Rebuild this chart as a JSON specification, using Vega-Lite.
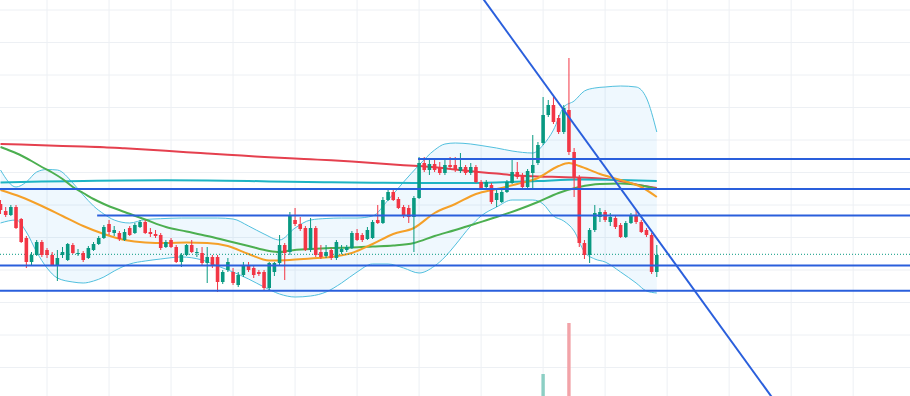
{
  "$schema": "https://vega.github.io/schema/vega-lite/v6.json",
  "width": 910,
  "height": 396,
  "autosize": {"type": "none"},
  "padding": 0,
  "background": "white",
  "config": {
    "view": {"stroke": null}
  },
  "datasets": {
    "candles": [
      {"i":0,"o":119.6,"h":120.0,"l":118.6,"c":119.0,"d":"down"},
      {"i":1,"o":118.9,"h":119.3,"l":118.3,"c":118.5,"d":"down"},
      {"i":2,"o":118.5,"h":119.5,"l":118.4,"c":119.3,"d":"up"},
      {"i":3,"o":119.3,"h":119.5,"l":117.1,"c":117.2,"d":"down"},
      {"i":4,"o":118.1,"h":118.2,"l":115.7,"c":115.8,"d":"down"},
      {"i":5,"o":116.2,"h":116.4,"l":113.2,"c":113.8,"d":"down"},
      {"i":6,"o":113.8,"h":114.8,"l":113.5,"c":114.5,"d":"up"},
      {"i":7,"o":114.5,"h":116.0,"l":114.4,"c":115.8,"d":"up"},
      {"i":8,"o":115.8,"h":116.0,"l":114.3,"c":114.5,"d":"down"},
      {"i":9,"o":115.0,"h":115.2,"l":114.2,"c":114.5,"d":"down"},
      {"i":10,"o":114.5,"h":114.8,"l":113.4,"c":113.5,"d":"down"},
      {"i":11,"o":113.5,"h":115.0,"l":111.9,"c":114.2,"d":"up"},
      {"i":12,"o":114.5,"h":115.3,"l":114.2,"c":114.8,"d":"up"},
      {"i":13,"o":114.0,"h":115.7,"l":113.9,"c":115.6,"d":"up"},
      {"i":14,"o":115.5,"h":115.7,"l":114.6,"c":114.7,"d":"down"},
      {"i":15,"o":114.6,"h":115.1,"l":114.4,"c":114.7,"d":"up"},
      {"i":16,"o":114.7,"h":114.9,"l":113.8,"c":114.0,"d":"down"},
      {"i":17,"o":114.2,"h":115.4,"l":114.1,"c":115.2,"d":"up"},
      {"i":18,"o":115.0,"h":115.8,"l":114.9,"c":115.6,"d":"up"},
      {"i":19,"o":115.6,"h":116.4,"l":115.5,"c":116.2,"d":"up"},
      {"i":20,"o":116.2,"h":117.5,"l":116.1,"c":117.3,"d":"up"},
      {"i":21,"o":117.6,"h":118.0,"l":116.5,"c":116.8,"d":"down"},
      {"i":22,"o":116.7,"h":117.4,"l":116.4,"c":117.0,"d":"up"},
      {"i":23,"o":116.7,"h":116.9,"l":115.9,"c":116.1,"d":"down"},
      {"i":24,"o":116.0,"h":117.1,"l":115.9,"c":116.8,"d":"up"},
      {"i":25,"o":117.2,"h":117.4,"l":116.4,"c":116.5,"d":"down"},
      {"i":26,"o":116.7,"h":117.7,"l":116.6,"c":117.5,"d":"up"},
      {"i":27,"o":117.3,"h":118.0,"l":117.2,"c":117.8,"d":"up"},
      {"i":28,"o":117.8,"h":118.0,"l":116.6,"c":116.7,"d":"down"},
      {"i":29,"o":116.8,"h":117.2,"l":116.3,"c":116.6,"d":"down"},
      {"i":30,"o":116.6,"h":117.0,"l":116.2,"c":116.4,"d":"down"},
      {"i":31,"o":116.5,"h":116.7,"l":115.0,"c":115.2,"d":"down"},
      {"i":32,"o":115.3,"h":116.0,"l":115.2,"c":115.8,"d":"up"},
      {"i":33,"o":116.0,"h":116.2,"l":115.2,"c":115.3,"d":"down"},
      {"i":34,"o":115.3,"h":115.5,"l":113.7,"c":113.8,"d":"down"},
      {"i":35,"o":113.8,"h":114.7,"l":113.3,"c":114.5,"d":"up"},
      {"i":36,"o":114.5,"h":115.6,"l":114.4,"c":115.5,"d":"up"},
      {"i":37,"o":115.5,"h":116.0,"l":114.7,"c":114.8,"d":"down"},
      {"i":38,"o":114.7,"h":115.2,"l":114.3,"c":114.8,"d":"up"},
      {"i":39,"o":114.7,"h":115.3,"l":113.5,"c":113.7,"d":"down"},
      {"i":40,"o":113.7,"h":115.3,"l":111.7,"c":114.3,"d":"up"},
      {"i":41,"o":114.3,"h":114.5,"l":113.2,"c":113.5,"d":"down"},
      {"i":42,"o":114.3,"h":114.5,"l":110.8,"c":111.8,"d":"down"},
      {"i":43,"o":111.8,"h":113.0,"l":111.6,"c":112.8,"d":"up"},
      {"i":44,"o":113.0,"h":114.2,"l":112.8,"c":113.8,"d":"up"},
      {"i":45,"o":112.8,"h":113.2,"l":111.5,"c":111.7,"d":"down"},
      {"i":46,"o":111.5,"h":112.8,"l":111.3,"c":112.5,"d":"up"},
      {"i":47,"o":112.5,"h":113.8,"l":112.3,"c":113.5,"d":"up"},
      {"i":48,"o":113.5,"h":113.8,"l":112.8,"c":113.0,"d":"down"},
      {"i":49,"o":113.2,"h":113.4,"l":112.2,"c":112.5,"d":"down"},
      {"i":50,"o":112.8,"h":113.0,"l":112.4,"c":112.6,"d":"down"},
      {"i":51,"o":112.8,"h":113.0,"l":110.9,"c":111.2,"d":"down"},
      {"i":52,"o":111.2,"h":113.8,"l":111.0,"c":113.7,"d":"up"},
      {"i":53,"o":112.8,"h":113.8,"l":112.4,"c":113.7,"d":"up"},
      {"i":54,"o":113.7,"h":116.5,"l":113.5,"c":115.5,"d":"up"},
      {"i":55,"o":115.5,"h":115.7,"l":112.0,"c":114.7,"d":"down"},
      {"i":56,"o":114.8,"h":118.8,"l":114.5,"c":118.5,"d":"up"},
      {"i":57,"o":118.0,"h":119.2,"l":117.4,"c":117.6,"d":"down"},
      {"i":58,"o":117.6,"h":118.3,"l":116.9,"c":117.1,"d":"down"},
      {"i":59,"o":117.2,"h":117.4,"l":114.9,"c":115.0,"d":"down"},
      {"i":60,"o":115.0,"h":118.2,"l":114.8,"c":117.2,"d":"up"},
      {"i":61,"o":117.2,"h":117.4,"l":114.3,"c":114.5,"d":"down"},
      {"i":62,"o":114.8,"h":115.5,"l":114.1,"c":114.3,"d":"down"},
      {"i":63,"o":114.4,"h":115.5,"l":114.2,"c":114.8,"d":"up"},
      {"i":64,"o":115.0,"h":115.2,"l":114.0,"c":114.2,"d":"down"},
      {"i":65,"o":114.2,"h":116.0,"l":114.0,"c":115.8,"d":"up"},
      {"i":66,"o":114.8,"h":115.5,"l":114.6,"c":115.1,"d":"up"},
      {"i":67,"o":115.0,"h":115.5,"l":114.8,"c":115.3,"d":"up"},
      {"i":68,"o":115.2,"h":116.9,"l":115.1,"c":116.7,"d":"up"},
      {"i":69,"o":116.7,"h":117.1,"l":115.9,"c":116.0,"d":"down"},
      {"i":70,"o":116.5,"h":116.7,"l":115.8,"c":116.0,"d":"down"},
      {"i":71,"o":116.1,"h":117.3,"l":116.0,"c":117.0,"d":"up"},
      {"i":72,"o":116.2,"h":118.0,"l":116.1,"c":117.8,"d":"up"},
      {"i":73,"o":118.0,"h":119.5,"l":117.6,"c":117.7,"d":"down"},
      {"i":74,"o":117.7,"h":120.3,"l":117.6,"c":120.0,"d":"up"},
      {"i":75,"o":120.0,"h":121.0,"l":119.9,"c":120.8,"d":"up"},
      {"i":76,"o":120.8,"h":121.1,"l":119.9,"c":120.0,"d":"down"},
      {"i":77,"o":120.1,"h":120.3,"l":119.1,"c":119.2,"d":"down"},
      {"i":78,"o":119.3,"h":119.5,"l":118.2,"c":118.4,"d":"down"},
      {"i":79,"o":119.2,"h":119.5,"l":117.7,"c":118.3,"d":"down"},
      {"i":80,"o":118.3,"h":120.4,"l":114.8,"c":120.2,"d":"up"},
      {"i":81,"o":120.2,"h":124.3,"l":120.1,"c":123.7,"d":"up"},
      {"i":82,"o":123.7,"h":124.3,"l":122.8,"c":123.0,"d":"down"},
      {"i":83,"o":123.0,"h":124.1,"l":122.5,"c":123.6,"d":"up"},
      {"i":84,"o":123.6,"h":124.0,"l":122.8,"c":123.0,"d":"down"},
      {"i":85,"o":123.2,"h":123.8,"l":122.5,"c":122.7,"d":"down"},
      {"i":86,"o":122.7,"h":124.0,"l":122.5,"c":123.5,"d":"up"},
      {"i":87,"o":123.5,"h":124.3,"l":123.1,"c":123.3,"d":"down"},
      {"i":88,"o":123.5,"h":124.3,"l":122.8,"c":123.0,"d":"down"},
      {"i":89,"o":122.9,"h":124.7,"l":122.7,"c":123.3,"d":"up"},
      {"i":90,"o":123.3,"h":123.5,"l":122.5,"c":122.7,"d":"down"},
      {"i":91,"o":122.7,"h":123.7,"l":122.5,"c":123.3,"d":"up"},
      {"i":92,"o":123.3,"h":123.5,"l":121.7,"c":121.8,"d":"down"},
      {"i":93,"o":121.8,"h":122.0,"l":121.0,"c":121.2,"d":"down"},
      {"i":94,"o":121.3,"h":122.0,"l":121.1,"c":121.8,"d":"up"},
      {"i":95,"o":121.5,"h":121.7,"l":119.6,"c":119.8,"d":"down"},
      {"i":96,"o":120.0,"h":121.0,"l":119.3,"c":120.7,"d":"up"},
      {"i":97,"o":119.8,"h":121.0,"l":119.7,"c":120.8,"d":"up"},
      {"i":98,"o":120.8,"h":122.0,"l":120.7,"c":121.8,"d":"up"},
      {"i":99,"o":121.7,"h":124.0,"l":121.6,"c":122.8,"d":"up"},
      {"i":100,"o":122.8,"h":123.8,"l":122.1,"c":122.3,"d":"down"},
      {"i":101,"o":122.5,"h":122.7,"l":121.1,"c":121.3,"d":"down"},
      {"i":102,"o":121.3,"h":123.1,"l":121.2,"c":122.9,"d":"up"},
      {"i":103,"o":122.7,"h":126.5,"l":121.2,"c":123.5,"d":"up"},
      {"i":104,"o":123.7,"h":125.8,"l":123.5,"c":125.5,"d":"up"},
      {"i":105,"o":125.7,"h":130.3,"l":125.5,"c":128.5,"d":"up"},
      {"i":106,"o":128.5,"h":130.0,"l":128.3,"c":129.5,"d":"up"},
      {"i":107,"o":129.5,"h":130.3,"l":127.6,"c":127.8,"d":"down"},
      {"i":108,"o":128.2,"h":128.5,"l":126.6,"c":126.8,"d":"down"},
      {"i":109,"o":126.8,"h":129.5,"l":126.6,"c":129.2,"d":"up"},
      {"i":110,"o":129.0,"h":134.2,"l":124.5,"c":124.8,"d":"down"},
      {"i":111,"o":124.8,"h":125.2,"l":120.3,"c":122.3,"d":"down"},
      {"i":112,"o":122.3,"h":122.5,"l":115.3,"c":115.7,"d":"down"},
      {"i":113,"o":115.7,"h":116.0,"l":114.1,"c":114.5,"d":"down"},
      {"i":114,"o":114.5,"h":117.2,"l":113.7,"c":117.0,"d":"up"},
      {"i":115,"o":117.0,"h":119.5,"l":116.8,"c":118.7,"d":"up"},
      {"i":116,"o":118.3,"h":119.2,"l":117.8,"c":118.8,"d":"up"},
      {"i":117,"o":118.8,"h":119.0,"l":117.8,"c":118.0,"d":"down"},
      {"i":118,"o":117.8,"h":118.7,"l":117.4,"c":118.3,"d":"up"},
      {"i":119,"o":118.2,"h":118.4,"l":117.1,"c":117.3,"d":"down"},
      {"i":120,"o":117.5,"h":117.7,"l":116.2,"c":116.3,"d":"down"},
      {"i":121,"o":116.3,"h":117.9,"l":116.2,"c":117.7,"d":"up"},
      {"i":122,"o":117.7,"h":118.7,"l":117.6,"c":118.5,"d":"up"},
      {"i":123,"o":118.5,"h":119.0,"l":117.6,"c":117.8,"d":"down"},
      {"i":124,"o":117.8,"h":118.0,"l":116.7,"c":116.8,"d":"down"},
      {"i":125,"o":117.0,"h":117.2,"l":116.3,"c":116.5,"d":"down"},
      {"i":126,"o":116.5,"h":116.7,"l":112.6,"c":112.8,"d":"down"},
      {"i":127,"o":112.8,"h":115.5,"l":112.3,"c":114.5,"d":"up"}
    ],
    "lines": [
      {"s":"ma1","i":0,"p":125.6},{"s":"ma1","i":4,"p":125.54},{"s":"ma1","i":8,"p":125.47},{"s":"ma1","i":12,"p":125.4},
      {"s":"ma1","i":16,"p":125.35},{"s":"ma1","i":20,"p":125.28},{"s":"ma1","i":24,"p":125.17},{"s":"ma1","i":28,"p":125.05},
      {"s":"ma1","i":32,"p":124.92},{"s":"ma1","i":36,"p":124.78},{"s":"ma1","i":40,"p":124.65},{"s":"ma1","i":44,"p":124.52},
      {"s":"ma1","i":48,"p":124.4},{"s":"ma1","i":52,"p":124.28},{"s":"ma1","i":56,"p":124.17},{"s":"ma1","i":60,"p":124.07},
      {"s":"ma1","i":64,"p":123.97},{"s":"ma1","i":68,"p":123.85},{"s":"ma1","i":72,"p":123.7},{"s":"ma1","i":76,"p":123.55},
      {"s":"ma1","i":80,"p":123.42},{"s":"ma1","i":84,"p":123.27},{"s":"ma1","i":88,"p":123.05},{"s":"ma1","i":92,"p":122.83},
      {"s":"ma1","i":96,"p":122.64},{"s":"ma1","i":100,"p":122.45},{"s":"ma1","i":104,"p":122.35},{"s":"ma1","i":108,"p":122.3},
      {"s":"ma1","i":112,"p":122.25},{"s":"ma1","i":116,"p":122.14},{"s":"ma1","i":120,"p":121.9},{"s":"ma1","i":124,"p":121.45},
      {"s":"ma1","i":127,"p":121.2},
      {"s":"ma2","i":0,"p":121.75},{"s":"ma2","i":8,"p":121.85},{"s":"ma2","i":16,"p":121.9},{"s":"ma2","i":24,"p":121.95},
      {"s":"ma2","i":32,"p":121.97},{"s":"ma2","i":40,"p":121.95},{"s":"ma2","i":48,"p":121.9},{"s":"ma2","i":56,"p":121.82},
      {"s":"ma2","i":64,"p":121.77},{"s":"ma2","i":72,"p":121.73},{"s":"ma2","i":80,"p":121.7},{"s":"ma2","i":88,"p":121.7},
      {"s":"ma2","i":96,"p":121.75},{"s":"ma2","i":104,"p":121.9},{"s":"ma2","i":112,"p":122.05},{"s":"ma2","i":120,"p":122.0},
      {"s":"ma2","i":127,"p":121.9},
      {"s":"ma3","i":0,"p":125.3},{"s":"ma3","i":2,"p":124.9},{"s":"ma3","i":4,"p":124.45},{"s":"ma3","i":6,"p":123.9},
      {"s":"ma3","i":8,"p":123.3},{"s":"ma3","i":10,"p":122.75},{"s":"ma3","i":12,"p":122.1},{"s":"ma3","i":14,"p":121.3},
      {"s":"ma3","i":16,"p":120.7},{"s":"ma3","i":18,"p":120.1},{"s":"ma3","i":20,"p":119.6},{"s":"ma3","i":24,"p":118.8},
      {"s":"ma3","i":28,"p":118.05},{"s":"ma3","i":32,"p":117.3},{"s":"ma3","i":36,"p":116.85},{"s":"ma3","i":40,"p":116.4},
      {"s":"ma3","i":44,"p":115.9},{"s":"ma3","i":48,"p":115.4},{"s":"ma3","i":52,"p":114.9},{"s":"ma3","i":54,"p":114.8},
      {"s":"ma3","i":56,"p":114.95},{"s":"ma3","i":60,"p":115.1},{"s":"ma3","i":64,"p":115.2},{"s":"ma3","i":68,"p":115.25},
      {"s":"ma3","i":72,"p":115.35},{"s":"ma3","i":76,"p":115.45},{"s":"ma3","i":80,"p":115.7},{"s":"ma3","i":84,"p":116.4},
      {"s":"ma3","i":88,"p":117.0},{"s":"ma3","i":92,"p":117.65},{"s":"ma3","i":96,"p":118.3},{"s":"ma3","i":100,"p":119.0},
      {"s":"ma3","i":104,"p":119.8},{"s":"ma3","i":108,"p":120.7},{"s":"ma3","i":112,"p":121.3},{"s":"ma3","i":116,"p":121.6},
      {"s":"ma3","i":120,"p":121.65},{"s":"ma3","i":124,"p":121.45},{"s":"ma3","i":127,"p":121.1},
      {"s":"ma4","i":0,"p":121.0},{"s":"ma4","i":4,"p":120.3},{"s":"ma4","i":8,"p":119.4},{"s":"ma4","i":12,"p":118.4},
      {"s":"ma4","i":16,"p":117.4},{"s":"ma4","i":20,"p":116.6},{"s":"ma4","i":24,"p":116.0},{"s":"ma4","i":28,"p":115.75},
      {"s":"ma4","i":32,"p":115.7},{"s":"ma4","i":36,"p":115.75},{"s":"ma4","i":40,"p":115.7},{"s":"ma4","i":44,"p":115.4},
      {"s":"ma4","i":48,"p":114.6},{"s":"ma4","i":52,"p":113.95},{"s":"ma4","i":56,"p":114.0},{"s":"ma4","i":60,"p":114.15},
      {"s":"ma4","i":64,"p":114.3},{"s":"ma4","i":68,"p":114.7},{"s":"ma4","i":72,"p":115.6},{"s":"ma4","i":76,"p":116.6},
      {"s":"ma4","i":80,"p":117.2},{"s":"ma4","i":84,"p":118.7},{"s":"ma4","i":88,"p":119.6},{"s":"ma4","i":92,"p":120.6},
      {"s":"ma4","i":96,"p":121.1},{"s":"ma4","i":100,"p":121.6},{"s":"ma4","i":104,"p":122.2},{"s":"ma4","i":108,"p":123.4},
      {"s":"ma4","i":110,"p":123.7},{"s":"ma4","i":112,"p":123.4},{"s":"ma4","i":116,"p":122.6},{"s":"ma4","i":120,"p":122.0},
      {"s":"ma4","i":124,"p":121.3},{"s":"ma4","i":127,"p":120.3}
    ],
    "bands": [
      {"i":0,"up":123.0,"lo":117.7},{"i":3,"up":121.3,"lo":118.0},{"i":5,"up":121.8,"lo":116.8},{"i":7,"up":122.8,"lo":114.8},
      {"i":9,"up":123.05,"lo":113.2},{"i":11,"up":123.0,"lo":112.2},{"i":14,"up":121.7,"lo":111.8},{"i":16,"up":120.5,"lo":111.7},
      {"i":18,"up":119.4,"lo":111.9},{"i":20,"up":118.6,"lo":112.3},{"i":22,"up":118.0,"lo":112.9},{"i":25,"up":117.7,"lo":113.6},
      {"i":28,"up":118.05,"lo":113.9},{"i":31,"up":118.13,"lo":114.1},{"i":35,"up":118.2,"lo":114.3},{"i":39,"up":118.2,"lo":114.0},
      {"i":42,"up":118.2,"lo":113.4},{"i":45,"up":118.1,"lo":112.8},{"i":48,"up":117.4,"lo":112.1},{"i":51,"up":116.6,"lo":111.3},
      {"i":54,"up":116.0,"lo":110.6},{"i":57,"up":117.2,"lo":110.3},{"i":60,"up":118.0,"lo":110.4},{"i":63,"up":118.15,"lo":110.8},
      {"i":66,"up":118.2,"lo":111.7},{"i":69,"up":118.2,"lo":112.8},{"i":72,"up":118.4,"lo":113.6},{"i":75,"up":120.0,"lo":113.6},
      {"i":78,"up":121.8,"lo":113.2},{"i":81,"up":123.5,"lo":112.7},{"i":84,"up":125.0,"lo":113.4},{"i":86,"up":125.6,"lo":114.3},
      {"i":88,"up":125.7,"lo":115.5},{"i":91,"up":125.6,"lo":117.4},{"i":93,"up":125.45,"lo":118.4},{"i":96,"up":125.2,"lo":119.3},
      {"i":99,"up":124.9,"lo":120.0},{"i":103,"up":124.7,"lo":120.0},{"i":105,"up":125.5,"lo":119.6},{"i":107,"up":127.0,"lo":118.4},
      {"i":109,"up":129.3,"lo":117.9},{"i":111,"up":129.9,"lo":116.9},{"i":113,"up":130.9,"lo":114.8},{"i":115,"up":131.2,"lo":114.1},
      {"i":117,"up":131.3,"lo":113.8},{"i":120,"up":131.4,"lo":112.8},{"i":123,"up":131.3,"lo":111.7},{"i":125,"up":130.2,"lo":110.9},
      {"i":127,"up":126.8,"lo":110.7}
    ],
    "levels": [
      {"x0":80.8,"x1":178,"p":124.1},
      {"x0":-2,"x1":178,"p":121.1},
      {"x0":18.7,"x1":178,"p":118.45},
      {"x0":-2,"x1":178,"p":113.45},
      {"x0":-2,"x1":178,"p":110.92}
    ],
    "trend": [{"x0":90,"x1":160,"y0":142.54,"y1":92.63}],
    "last": [{"p":114.57}],
    "vol": [{"i":105,"v":55.6,"d":"up"},{"i":110,"v":184.3,"d":"down"}],
    "gridx": [{"i":9},{"i":21},{"i":33},{"i":45},{"i":57},{"i":69},{"i":81},{"i":93},{"i":105},{"i":117},{"i":129},{"i":141},{"i":153},{"i":165}],
    "gridy": [{"p":103.25},{"p":106.5},{"p":109.75},{"p":113},{"p":116.25},{"p":119.5},{"p":122.75},{"p":126},{"p":129.25},{"p":132.5},{"p":135.75},{"p":139}]
  },
  "layer": [
    {
      "data": {"name": "gridx"},
      "mark": {"type": "rule", "color": "#edf0f4", "strokeWidth": 1},
      "encoding": {
        "x": {"field": "i", "type": "quantitative", "scale": {"domain": [-0.1, 176], "nice": false, "zero": false, "padding": 0}, "axis": null}
      }
    },
    {
      "data": {"name": "gridy"},
      "mark": {"type": "rule", "color": "#edf0f4", "strokeWidth": 1},
      "encoding": {
        "y": {"field": "p", "type": "quantitative", "scale": {"domain": [100.4, 140], "nice": false, "zero": false}, "axis": null}
      }
    },
    {
      "data": {"name": "vol"},
      "mark": {"type": "bar", "size": 3.4},
      "encoding": {
        "x": {"field": "i", "type": "quantitative", "scale": {"domain": [-0.1, 176], "nice": false, "zero": false, "padding": 0}, "axis": null},
        "y": {"field": "v", "type": "quantitative", "scale": {"domain": [0, 1000], "nice": false}, "axis": null},
        "color": {"field": "d", "type": "nominal", "scale": {"domain": ["up", "down"], "range": ["#8ccfc4", "#f2a3a8"]}, "legend": null}
      }
    },
    {
      "layer": [
        {
          "data": {"name": "bands"},
          "mark": {"type": "area", "color": "#2196f3", "opacity": 0.07, "interpolate": "monotone"},
          "encoding": {
            "x": {"field": "i", "type": "quantitative", "scale": {"domain": [-0.1, 176], "nice": false, "zero": false, "padding": 0}, "axis": null},
            "y": {"field": "lo", "type": "quantitative", "scale": {"domain": [100.4, 140], "nice": false, "zero": false}, "axis": null},
            "y2": {"field": "up"}
          }
        },
        {
          "data": {"name": "bands"},
          "mark": {"type": "line", "color": "#52c0de", "strokeWidth": 1, "interpolate": "monotone"},
          "encoding": {
            "x": {"field": "i", "type": "quantitative", "scale": {"domain": [-0.1, 176], "nice": false, "zero": false, "padding": 0}, "axis": null},
            "y": {"field": "up", "type": "quantitative", "scale": {"domain": [100.4, 140], "nice": false, "zero": false}, "axis": null}
          }
        },
        {
          "data": {"name": "bands"},
          "mark": {"type": "line", "color": "#52c0de", "strokeWidth": 1, "interpolate": "monotone"},
          "encoding": {
            "x": {"field": "i", "type": "quantitative", "scale": {"domain": [-0.1, 176], "nice": false, "zero": false, "padding": 0}, "axis": null},
            "y": {"field": "lo", "type": "quantitative", "scale": {"domain": [100.4, 140], "nice": false, "zero": false}, "axis": null}
          }
        },
        {
          "data": {"name": "lines"},
          "mark": {"type": "line", "strokeWidth": 2, "interpolate": "monotone"},
          "encoding": {
            "x": {"field": "i", "type": "quantitative", "scale": {"domain": [-0.1, 176], "nice": false, "zero": false, "padding": 0}, "axis": null},
            "y": {"field": "p", "type": "quantitative", "scale": {"domain": [100.4, 140], "nice": false, "zero": false}, "axis": null},
            "color": {"field": "s", "type": "nominal", "scale": {"domain": ["ma1", "ma2", "ma3", "ma4"], "range": ["#e5404e", "#1eb4c3", "#4caf50", "#f5a028"]}, "legend": null}
          }
        },
        {
          "data": {"name": "last"},
          "mark": {"type": "rule", "color": "#089981", "strokeWidth": 1, "strokeDash": [1, 2]},
          "encoding": {
            "y": {"field": "p", "type": "quantitative", "scale": {"domain": [100.4, 140], "nice": false, "zero": false}, "axis": null}
          }
        },
        {
          "data": {"name": "candles"},
          "mark": {"type": "rule", "strokeWidth": 1},
          "encoding": {
            "x": {"field": "i", "type": "quantitative", "scale": {"domain": [-0.1, 176], "nice": false, "zero": false, "padding": 0}, "axis": null},
            "y": {"field": "l", "type": "quantitative", "scale": {"domain": [100.4, 140], "nice": false, "zero": false}, "axis": null},
            "y2": {"field": "h"},
            "color": {"field": "d", "type": "nominal", "scale": {"domain": ["up", "down"], "range": ["#089981", "#f23645"]}, "legend": null}
          }
        },
        {
          "data": {"name": "candles"},
          "mark": {"type": "bar", "size": 3.6},
          "encoding": {
            "x": {"field": "i", "type": "quantitative", "scale": {"domain": [-0.1, 176], "nice": false, "zero": false, "padding": 0}, "axis": null},
            "y": {"field": "o", "type": "quantitative", "scale": {"domain": [100.4, 140], "nice": false, "zero": false}, "axis": null},
            "y2": {"field": "c"},
            "color": {"field": "d", "type": "nominal", "scale": {"domain": ["up", "down"], "range": ["#089981", "#f23645"]}, "legend": null}
          }
        },
        {
          "data": {"name": "levels"},
          "mark": {"type": "rule", "color": "#2a5fdc", "strokeWidth": 2, "clip": true},
          "encoding": {
            "x": {"field": "x0", "type": "quantitative", "scale": {"domain": [-0.1, 176], "nice": false, "zero": false, "padding": 0}, "axis": null},
            "x2": {"field": "x1"},
            "y": {"field": "p", "type": "quantitative", "scale": {"domain": [100.4, 140], "nice": false, "zero": false}, "axis": null}
          }
        },
        {
          "data": {"name": "trend"},
          "mark": {"type": "rule", "color": "#2a5fdc", "strokeWidth": 2, "clip": true},
          "encoding": {
            "x": {"field": "x0", "type": "quantitative", "scale": {"domain": [-0.1, 176], "nice": false, "zero": false, "padding": 0}, "axis": null},
            "x2": {"field": "x1"},
            "y": {"field": "y0", "type": "quantitative", "scale": {"domain": [100.4, 140], "nice": false, "zero": false}, "axis": null},
            "y2": {"field": "y1"}
          }
        }
      ],
      "resolve": {"scale": {"color": "independent"}}
    }
  ],
  "resolve": {"scale": {"y": "independent", "color": "independent"}}
}
